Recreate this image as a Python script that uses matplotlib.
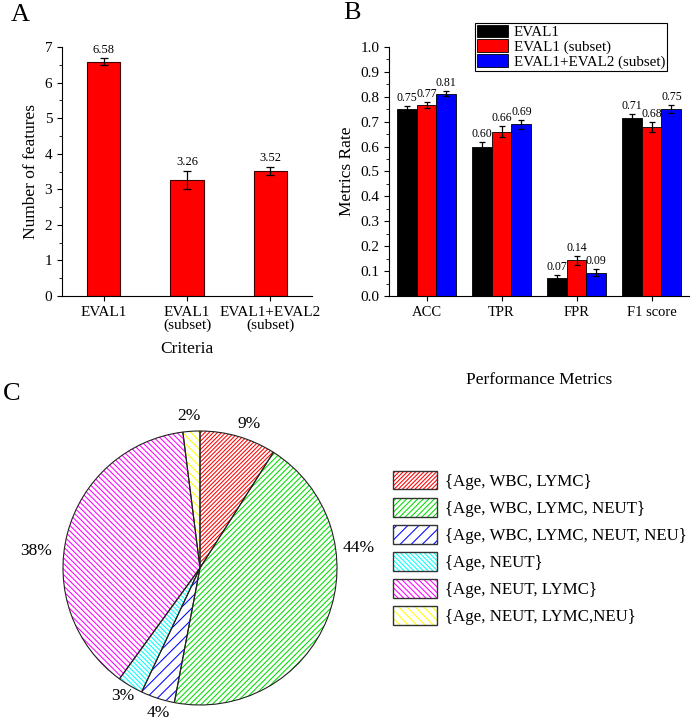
import matplotlib
matplotlib.use('Agg')
import matplotlib.pyplot as plt
from matplotlib.patches import Patch
from matplotlib.ticker import MultipleLocator, FormatStrFormatter
import numpy as np

plt.rcParams['font.family'] = ['Liberation Serif', 'DejaVu Serif']
plt.rcParams['hatch.linewidth'] = 0.75

# panel A
criteria = ['EVAL1', 'EVAL1\n(subset)', 'EVAL1+EVAL2\n(subset)']
n_features = [6.58, 3.26, 3.52]
n_features_err = [0.10, 0.25, 0.12]

# panel B
metrics = ['ACC', 'TPR', 'FPR', 'F1 score']
series_names = ['EVAL1', 'EVAL1 (subset)', 'EVAL1+EVAL2 (subset)']
eval1 = [0.752, 0.598, 0.073, 0.714]
eval1_sub = [0.768, 0.660, 0.143, 0.680]
eval12_sub = [0.812, 0.690, 0.094, 0.750]
eval1_err = [0.012, 0.020, 0.012, 0.015]
eval1_sub_err = [0.012, 0.022, 0.018, 0.020]
eval12_sub_err = [0.010, 0.018, 0.015, 0.017]

# panel C
subsets = ['{Age, WBC, LYMC}', '{Age, WBC, LYMC, NEUT}', '{Age, WBC, LYMC, NEUT, NEU}',
           '{Age, NEUT}', '{Age, NEUT, LYMC}', '{Age, NEUT, LYMC,NEU}']
shares = [9, 44, 4, 3, 38, 2]

fig = plt.figure(figsize=(6.99, 7.2), dpi=100)
W, H = 699, 720

def rect(x0, y0, x1, y1):
    return [x0 / W, 1 - y1 / H, (x1 - x0) / W, (y1 - y0) / H]

# ---------- A ----------
axA = fig.add_axes(rect(62, 47, 312, 296))
xa = np.arange(len(criteria))
axA.bar(xa, n_features, width=0.4, color='red', edgecolor='#400000', linewidth=0.8,
        yerr=n_features_err, capsize=3, error_kw=dict(elinewidth=0.9, capthick=0.9))
for x, v, e in zip(xa, n_features, n_features_err):
    axA.text(x, v + e + 0.08, '%.2f' % v, ha='center', va='bottom', fontsize=9)
axA.set_xlim(-0.5, 2.5)
axA.set_ylim(0, 7)
axA.set_xticks(xa)
axA.set_xticklabels(criteria, fontsize=9.5, linespacing=1.0)
axA.yaxis.set_major_locator(MultipleLocator(1))
axA.yaxis.set_minor_locator(MultipleLocator(0.5))
axA.tick_params(labelsize=11)
axA.set_ylabel('Number of features', fontsize=12.5)
axA.set_xlabel('Criteria', fontsize=12.5, labelpad=6)
for s in ['top', 'right']:
    axA.spines[s].set_visible(False)

# ---------- B ----------
axB = fig.add_axes(rect(389, 47, 689, 296))
xb = np.arange(len(metrics))
bw = 0.265
colors = ['black', 'red', 'blue']
handles = []
for i, (vals, errs) in enumerate([(eval1, eval1_err), (eval1_sub, eval1_sub_err),
                                  (eval12_sub, eval12_sub_err)]):
    pos = xb + (i - 1) * bw
    b = axB.bar(pos, vals, width=bw, color=colors[i], edgecolor='black', linewidth=0.6,
                yerr=errs, capsize=2.5, error_kw=dict(elinewidth=0.9, capthick=0.9))
    handles.append(b)
    for x, v, e in zip(pos, vals, errs):
        axB.text(x, v + e + 0.008, '%.2f' % v, ha='center', va='bottom', fontsize=8.5)
axB.set_xlim(-0.5, 3.5)
axB.set_ylim(0, 1.0)
axB.set_xticks(xb)
axB.set_xticklabels(metrics, fontsize=10.5)
axB.yaxis.set_major_locator(MultipleLocator(0.1))
axB.yaxis.set_minor_locator(MultipleLocator(0.05))
axB.yaxis.set_major_formatter(FormatStrFormatter('%.1f'))
axB.tick_params(axis='y', labelsize=11)
axB.set_ylabel('Metrics Rate', fontsize=12.5)
axB.set_xlabel('Performance Metrics', fontsize=12.5, labelpad=38)
for s in ['top', 'right']:
    axB.spines[s].set_visible(False)
legB = fig.legend(handles, series_names, loc='upper left',
                  bbox_to_anchor=(475 / W, 1 - 23 / H), fontsize=10.8, fancybox=False,
                  edgecolor='black', framealpha=1, borderpad=0.12, labelspacing=0.02,
                  handlelength=2.1, handleheight=0.9, handletextpad=0.35,
                  borderaxespad=0)
legB.get_frame().set_linewidth(0.8)

# ---------- C ----------
axC = fig.add_axes(rect(63, 431, 337, 705))
pie_colors = ['red', '#00dd00', 'blue', 'cyan', 'magenta', 'yellow']
hatches = ['/' * 8, '/' * 6, '/' * 3, '\\' * 7, '\\' * 6, '\\' * 4]
wedges, _ = axC.pie(shares, startangle=90, counterclock=False, radius=1,
                    colors=['white'] * 6)
for w, c, h in zip(wedges, pie_colors, hatches):
    w.set_edgecolor(c)
    w.set_linewidth(0)
    w.set_hatch(h)
axC.pie(shares, startangle=90, counterclock=False, radius=1,
        colors=['none'] * 6, wedgeprops=dict(edgecolor='#222222', linewidth=0.8))
axC.set_xlim(-1, 1)
axC.set_ylim(-1, 1)
axC.axis('off')

# label placement (angle in degrees, radius)
label_pos = [(71, 1.11), (7, 1.17), (-106, 1.10), (-121, 1.09), (174, 1.2), (94, 1.11)]
for s, (ang, r) in zip(shares, label_pos):
    a = np.deg2rad(ang)
    axC.text(r * np.cos(a), r * np.sin(a), '%d%%' % s, ha='center', va='center',
             fontsize=12.5, clip_on=False)

leg_handles = [(Patch(facecolor='white', edgecolor=c, linewidth=0, hatch=h),
                Patch(facecolor='none', edgecolor='#333333', linewidth=1.0))
               for c, h in zip(pie_colors, hatches)]
fig.legend(leg_handles, subsets, loc='upper left', bbox_to_anchor=(393 / W, 1 - 471 / H),
           frameon=False, fontsize=12.2, borderpad=0, borderaxespad=0,
           handlelength=2.6, handleheight=1.3, labelspacing=0.48, handletextpad=0.45)

# panel letters
fig.text(20 / W, 1 - 15 / H, 'A', fontsize=19, ha='center', va='center')
fig.text(352 / W, 1 - 13 / H, 'B', fontsize=19, ha='center', va='center')
fig.text(12 / W, 1 - 394 / H, 'C', fontsize=19, ha='center', va='center')

fig.savefig('out.png', dpi=100)
